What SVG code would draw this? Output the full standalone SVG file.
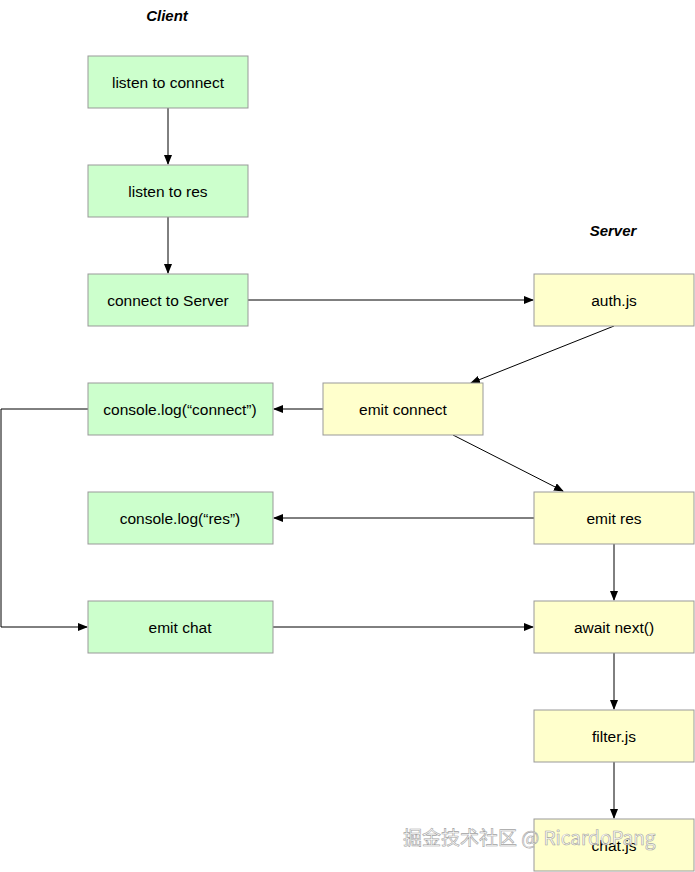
<svg xmlns="http://www.w3.org/2000/svg" width="695" height="872" viewBox="0 0 695 872">
<style>
.g{fill:#ccffcc;stroke:#999;stroke-width:1}
.y{fill:#ffffcc;stroke:#999;stroke-width:1}
.t{font-family:"Liberation Sans",Arial,sans-serif;font-size:15.5px;fill:#000;text-anchor:middle;dominant-baseline:central}
.h{font-family:"Liberation Sans",Arial,sans-serif;font-size:15px;font-weight:bold;font-style:italic;text-anchor:middle}
.c{fill:none;stroke:#000;stroke-width:1;marker-end:url(#a)}
</style>
<defs><marker id="a" markerWidth="10" markerHeight="8" refX="9" refY="4" orient="auto" markerUnits="userSpaceOnUse"><path d="M0,0L10,4L0,8z" fill="#000"/></marker></defs>
<rect width="695" height="872" fill="#fff"/>
<text class="h" x="167" y="21">Client</text>
<text class="h" x="613" y="236">Server</text>
<g id="connectors">
<path class="c" d="M168,108V164"/>
<path class="c" d="M168,217V273"/>
<path class="c" d="M248,300H533"/>
<path class="c" d="M614,326L471,383"/>
<path class="c" d="M323,409H274"/>
<path class="c" d="M453,435L563,491"/>
<path class="c" d="M534,518H274"/>
<path class="c" d="M614,544V600"/>
<path class="c" d="M273,627H533"/>
<path class="c" d="M614,653V709"/>
<path class="c" d="M614,762V818"/>
<path class="c" d="M88,409H1V627H87"/>
</g>
<g id="n1"><rect class="g" x="88" y="56" width="160" height="52"/><text class="t" x="168" y="82">listen to connect</text></g>
<g id="n2"><rect class="g" x="88" y="165" width="160" height="52"/><text class="t" x="168" y="191">listen to res</text></g>
<g id="n3"><rect class="g" x="88" y="274" width="160" height="52"/><text class="t" x="168" y="300">connect to Server</text></g>
<g id="n4"><rect class="g" x="88" y="383" width="185" height="52"/><text class="t" x="180" y="409">console.log(“connect”)</text></g>
<g id="n5"><rect class="g" x="88" y="492" width="185" height="52"/><text class="t" x="180" y="518">console.log(“res”)</text></g>
<g id="n6"><rect class="g" x="88" y="601" width="185" height="52"/><text class="t" x="180" y="627">emit chat</text></g>
<g id="s1"><rect class="y" x="534" y="274" width="160" height="52"/><text class="t" x="614" y="300">auth.js</text></g>
<g id="s2"><rect class="y" x="323" y="383" width="160" height="52"/><text class="t" x="403" y="409">emit connect</text></g>
<g id="s3"><rect class="y" x="534" y="492" width="160" height="52"/><text class="t" x="614" y="518">emit res</text></g>
<g id="s4"><rect class="y" x="534" y="601" width="160" height="52"/><text class="t" x="614" y="627">await next()</text></g>
<g id="s5"><rect class="y" x="534" y="710" width="160" height="52"/><text class="t" x="614" y="736">filter.js</text></g>
<g id="s6"><rect class="y" x="534" y="819" width="160" height="52"/><text class="t" x="614" y="845">chat.js</text></g>
<text x="403" y="845" font-family="'Noto Sans CJK SC',sans-serif" font-size="19" fill="#fff" stroke="#999" stroke-width="0.6" opacity="0.9">掘金技术社区 @ RicardoPang</text>
</svg>
